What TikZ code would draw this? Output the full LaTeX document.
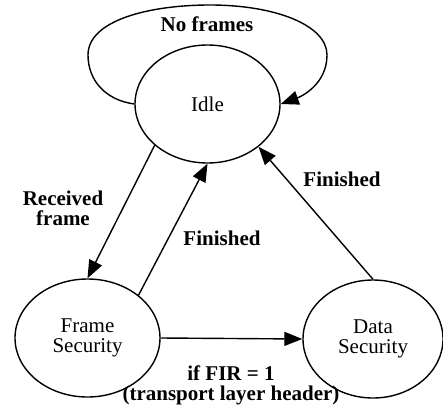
\documentclass[tikz,border=0pt]{standalone}
\usepackage{fontspec}
\setmainfont{Liberation Serif}
\usetikzlibrary{shapes.geometric, arrows.meta}

\begin{document}
\begin{tikzpicture}[
        x=1pt, y=-1pt,
        st/.style={draw, ellipse, line width=1.4pt, minimum width=145pt, minimum height=118pt,
          inner sep=0pt, align=center, font=\fontsize{21}{20}\selectfont},
        ed/.style={line width=1.4pt, -{Triangle[length=18pt, width=14pt]}},
        lb/.style={font=\fontsize{21}{20}\selectfont\bfseries, align=center, inner sep=0pt}
      ]
      \useasboundingbox (0,0) rectangle (443,409);
      % states
      \node[st] (idle) at (207.5,104) {Idle};
      \node[st] (frame) at (87.5,338) {Frame\\Security};
      \node[st, minimum width=140pt] (data) at (373,339) {Data\\Security};
      % transitions
      \draw[ed] (idle.west) .. controls (105,100) and (88,80) .. (88,55)
        .. controls (88,20) and (150,5) .. (210,5)
        .. controls (275,5) and (327,25) .. (327,55)
        .. controls (327,85) and (300,97) .. (idle.east);
      \draw[ed] (idle.218) -- (frame.north);
      \draw[ed] (frame.40) -- (idle.south);
      \draw[ed] (data.north) -- (idle.320);
      \draw[ed] (frame.east) -- (data.west);
      % labels
      \node[lb, anchor=base] (noframes) at (207,32) {No frames};
      \node[lb] (received) at (63,208) {Received\\frame};
      \node[lb, anchor=base] (finleft) at (222,245) {Finished};
      \node[lb, anchor=base] (finright) at (342,186) {Finished};
      \node[lb] (fir) at (231,385) {if FIR = 1\\(transport layer header)};
    \end{tikzpicture}
\end{document}
